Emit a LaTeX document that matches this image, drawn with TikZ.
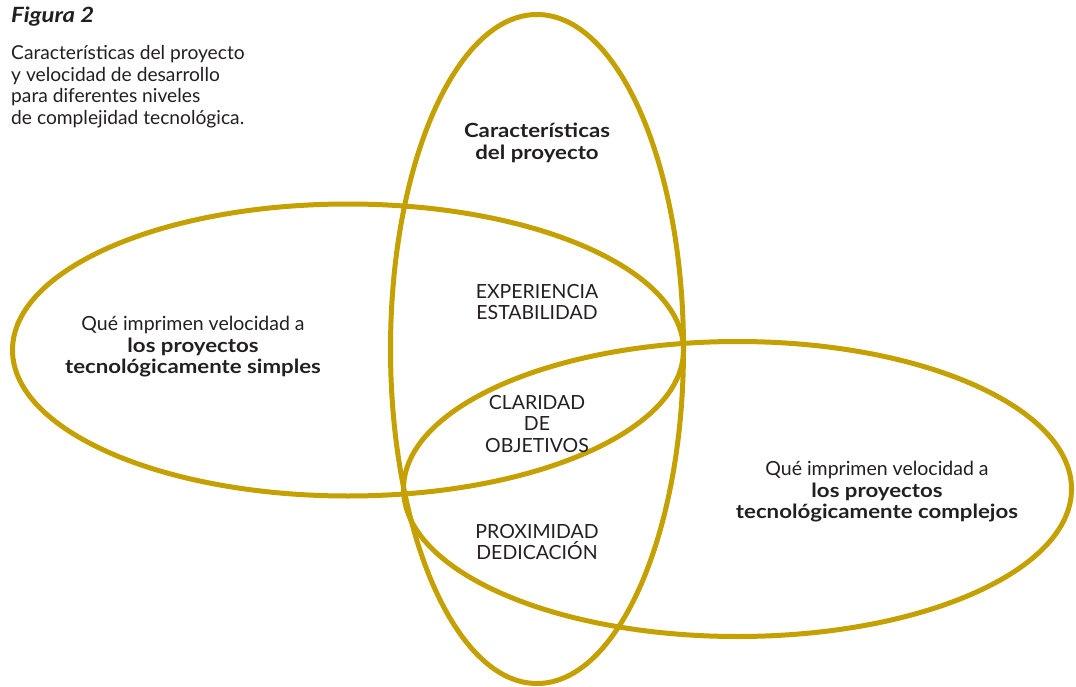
\documentclass[tikz,border=0pt]{standalone}
\usepackage{fontspec}
\setmainfont{Lato}[BoldFeatures={FakeStretch=1.14},BoldItalicFeatures={FakeStretch=1.14}]
\definecolor{gold}{RGB}{196,160,0}
\definecolor{ink}{RGB}{35,31,32}
\begin{document}
\begin{tikzpicture}[x=1pt,y=-1pt,
  ring/.style={draw=gold,line width=5pt},
  label/.style={align=center,inner sep=0pt,text=ink,font=\fontsize{19.5}{21.5}\selectfont},
  caption/.style={align=left,inner sep=0pt,text=ink,font=\fontsize{19.2}{21.7}\selectfont}]
\useasboundingbox (0,0) rectangle (1076,687);
% three overlapping ellipses
\draw[ring] (537,349) ellipse [x radius=146.5, y radius=334.5];
\draw[ring] (348,350) ellipse [x radius=335.5, y radius=146];
\draw[ring] (737.5,489) ellipse [x radius=334, y radius=147.5];
% figure caption
\node[caption,anchor=north west] (fig) at (11,7) {\fontsize{21}{23}\selectfont\bfseries\itshape Figura 2};
\node[caption,anchor=north west] (cap) at (11,45) {Características del proyecto\\y velocidad de desarrollo\\para diferentes niveles\\de complejidad tecnológica.};
% labels
\node[label] (top) at (537,143) {\bfseries Características\\\bfseries del proyecto};
\node[label] (exp) at (537,302) {EXPERIENCIA\\ESTABILIDAD};
\node[label] (cla) at (537,424) {CLARIDAD\\DE\\OBJETIVOS};
\node[label] (pro) at (537,542) {PROXIMIDAD\\DEDICACIÓN};
\node[label] (simp) at (193,347) {Qué imprimen velocidad a\\\bfseries los proyectos\\\bfseries tecnológicamente simples};
\node[label] (comp) at (877,492) {Qué imprimen velocidad a\\\bfseries los proyectos\\\bfseries tecnológicamente complejos};
\end{tikzpicture}
\end{document}
